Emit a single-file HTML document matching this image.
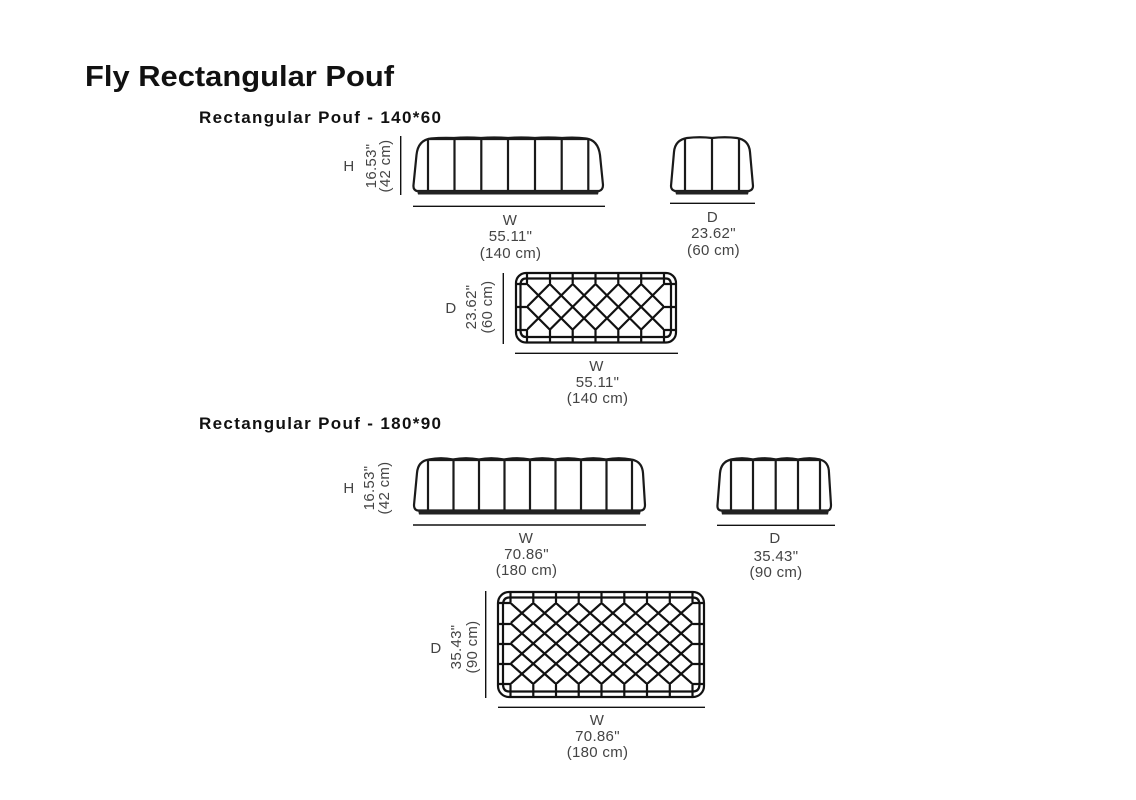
<!DOCTYPE html>
<html><head><meta charset="utf-8"><style>
html,body{margin:0;padding:0;background:#fff}
svg{display:block}
text{font-family:"Liberation Sans",sans-serif}
.t{font-weight:bold;fill:#111}
.l{font-size:15px;fill:#444;text-anchor:middle;letter-spacing:.3px}
.s{fill:none;stroke:#1a1a1a;stroke-width:2.2}
.d{fill:none;stroke:#111;stroke-width:1.4}
.g{fill:none;stroke:#111;stroke-width:2.2}
</style></head><body>
<svg width="1136" height="800" viewBox="0 0 1136 800" xmlns="http://www.w3.org/2000/svg">
<defs>
<clipPath id="c1"><rect x="527" y="284" width="137" height="46"/></clipPath>
<clipPath id="c2"><rect x="510.5" y="603" width="182" height="81"/></clipPath>
</defs>
<text class="t" x="85" y="86" font-size="29" textLength="309" lengthAdjust="spacingAndGlyphs">Fly Rectangular Pouf</text>
<text class="t" x="199" y="123" font-size="17" textLength="242" lengthAdjust="spacing">Rectangular Pouf - 140*60</text>
<text class="t" x="199" y="429" font-size="17" textLength="242" lengthAdjust="spacing">Rectangular Pouf - 180*90</text>

<!-- 140 front -->
<path class="s" d="M417 191 Q413 190 413.5 185 L416.5 155 Q418 140 431 138.5 Q442 137.5 454 138 Q467 137 481 138 Q494 137 508 138 Q521 137 535 138 Q548 137 562 138 Q575 137 586 138.5 Q598 140 600 155 L603 185 Q603 190 599 191 Z"/>
<path class="s" d="M428 139V191M454.500 139V191M481.300 139V191M508 139V191M535 139V191M561.700 139V191M588.300 139V191M428 139H588"/>
<path d="M417 190.500H599L598 194.500H418Z" fill="#222"/>
<path class="d" d="M400.700 136V195M413 206.300H605"/>
<!-- 140 side -->
<path class="s" d="M675 191 Q671 190 671 186 L674 152 Q675 140 687 138 Q700 136.500 712 138 Q725 136.500 737 138 Q749 140 750 152 L753 186 Q753 190 749 191 Z"/>
<path class="s" d="M685 139V191M712 138V191M739 139V191"/>
<path d="M675 190.500H749L748 194.500H676Z" fill="#222"/>
<path class="d" d="M670 203.300H755"/>

<!-- 140 top -->
<rect class="g" x="516" y="273" width="160" height="69.500" rx="10"/>
<path class="g" d="M526 278.500H666M526 337H666M520.500 284V331M671 284V331"/>
<path class="g" d="M520.500 284Q521 278.500 526 278.500M671 284Q670.500 278.500 666 278.500M520.500 331Q521 337 526 337M671 331Q670.500 337 666 337"/>
<path class="g" d="M527 273V284M550 273V284M572.700 273V284M595.500 273V284M618.300 273V284M641.200 273V284M664 273V284M527 330V342M550 330V342M572.700 330V342M595.500 330V342M618.300 330V342M641.200 330V342M664 330V342M516 307H527M664 307H676M516 284H527M664 284H676M516 330H527M664 330H676"/>
<g clip-path="url(#c1)"><path class="g" d="M481.300 284l46 46M504.200 284l46 46M527 284l46 46M549.800 284l46 46M572.700 284l46 46M595.500 284l46 46M618.300 284l46 46M641.200 284l46 46M527 284l-46 46M549.800 284l-46 46M572.700 284l-46 46M595.500 284l-46 46M618.300 284l-46 46M641.200 284l-46 46M664 284l-46 46M686.800 284l-46 46M709.700 284l-46 46"/></g>
<path class="d" d="M503.300 273V344M515 353.300H678"/>

<!-- 180 front -->
<path class="s" d="M418 510.500 Q414 510 414 505 L417 473 Q418 461 429 459.500 Q441 457 453 459.500 Q466 457 479 459.500 Q491 457 504 459.500 Q517 457 530 459.500 Q542 457 555 459.500 Q568 457 581 459.500 Q593 457 606 459.500 Q619 457 631 459.500 Q642 461 643 473 L645 505 Q645 510 641 510.500 Z"/>
<path class="s" d="M428 460V511M453.500 460V511M479 460V511M504.500 460V511M530 460V511M555.500 460V511M581 460V511M606.500 460V511M632 460V511M428 460H632"/>
<path d="M418 510H641L640 514.500H419Z" fill="#222"/>
<path class="d" d="M413 525H646"/>
<!-- 180 side -->
<path class="s" d="M721 510.500 Q717 510 717.500 505 L720 473 Q721 462 731 459.500 Q742 457 753 459.500 Q765 457 776 459.500 Q787 457 798 459.500 Q810 457 820 459.500 Q829 462 829 473 L831 505 Q831 510 828 510.500 Z"/>
<path class="s" d="M731 460V511M753 460V511M775.700 460V511M798 460V511M820 460V511M731 460H820"/>
<path d="M721 510H829L828 514.500H722Z" fill="#222"/>
<path class="d" d="M717 525.300H835"/>

<!-- 180 top -->
<rect class="g" x="498" y="592" width="206" height="105" rx="11"/>
<path class="g" d="M509 597.500H693M509 691.500H693M503 604V685M699.500 604V685"/>
<path class="g" d="M503 604Q503.500 597.500 509 597.500M699.500 604Q699 597.500 693 597.500M503 685Q503.500 691.500 509 691.500M699.500 685Q699 691.500 693 691.500"/>
<path class="g" d="M510.500 592V603M533.300 592V603M556 592V603M578.700 592V603M601.500 592V603M624.300 592V603M647 592V603M669.800 592V603M692.500 592V603M510.500 684V697M533.300 684V697M556 684V697M578.700 684V697M601.500 684V697M624.300 684V697M647 684V697M669.800 684V697M692.500 684V697M498 603H510.500M498 624H510.500M498 644H510.500M498 664H510.500M498 684H510.500M692.500 603H704M692.500 624H704M692.500 644H704M692.500 664H704M692.500 684H704"/>
<g clip-path="url(#c2)"><path class="g" d="M442.250 603l91 81M465 603l91 81M487.750 603l91 81M510.500 603l91 81M533.250 603l91 81M556 603l91 81M578.750 603l91 81M601.500 603l91 81M624.250 603l91 81M647 603l91 81M669.750 603l91 81M533.250 603l-91 81M556 603l-91 81M578.750 603l-91 81M601.500 603l-91 81M624.250 603l-91 81M647 603l-91 81M669.750 603l-91 81M692.500 603l-91 81M715.250 603l-91 81M738 603l-91 81M760.750 603l-91 81"/></g>
<path class="d" d="M485.700 591V698M498 707.300H705"/>

<!-- labels -->
<text class="l" x="349" y="171">H</text>
<text class="l" transform="translate(376,166) rotate(-90)">16.53"</text>
<text class="l" transform="translate(390,166) rotate(-90)">(42 cm)</text>
<text class="l" x="510" y="225">W</text><text class="l" x="510.500" y="241">55.11"</text><text class="l" x="510.500" y="258">(140 cm)</text>
<text class="l" x="712.500" y="222">D</text><text class="l" x="713.500" y="238">23.62"</text><text class="l" x="713.500" y="255">(60 cm)</text>
<text class="l" x="451" y="313">D</text>
<text class="l" transform="translate(476,307) rotate(-90)">23.62"</text>
<text class="l" transform="translate(492,307) rotate(-90)">(60 cm)</text>
<text class="l" x="596.500" y="371">W</text><text class="l" x="597.500" y="387">55.11"</text><text class="l" x="597.500" y="403">(140 cm)</text>
<text class="l" x="349" y="493">H</text>
<text class="l" transform="translate(374,488) rotate(-90)">16.53"</text>
<text class="l" transform="translate(389,488) rotate(-90)">(42 cm)</text>
<text class="l" x="526" y="543">W</text><text class="l" x="526.500" y="559">70.86"</text><text class="l" x="526.500" y="575">(180 cm)</text>
<text class="l" x="775" y="543">D</text><text class="l" x="776" y="561">35.43"</text><text class="l" x="776" y="577">(90 cm)</text>
<text class="l" x="436" y="653">D</text>
<text class="l" transform="translate(461,647) rotate(-90)">35.43"</text>
<text class="l" transform="translate(477,647) rotate(-90)">(90 cm)</text>
<text class="l" x="597" y="725">W</text><text class="l" x="597.500" y="741">70.86"</text><text class="l" x="597.500" y="757">(180 cm)</text>
</svg>
</body></html>
